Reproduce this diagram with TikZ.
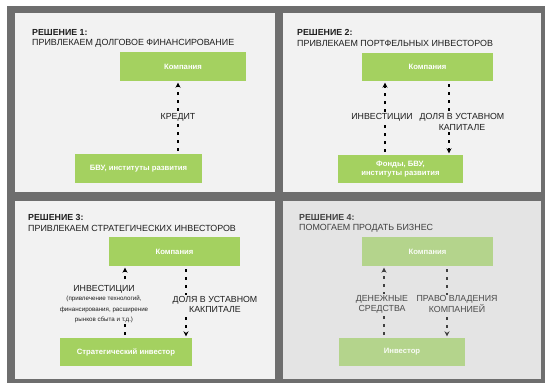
\documentclass[tikz,border=0pt]{standalone}
\usepackage{fontspec}
\setmainfont{Liberation Sans}
\usetikzlibrary{arrows.meta}
\definecolor{frame}{HTML}{6E6E6E}
\definecolor{panel}{HTML}{F2F2F2}
\definecolor{panelfour}{HTML}{E4E4E4}
\definecolor{boxgreen}{HTML}{A4D160}
\definecolor{boxpale}{HTML}{B4D48C}
\definecolor{ink}{HTML}{1E1E1E}
\begin{document}
\begin{tikzpicture}[x=1pt,y=-1pt,
  box/.style={fill=boxgreen,text=white,inner sep=0pt,align=center,
    font=\bfseries\fontsize{7.7}{9}\selectfont},
  palebox/.style={box,fill=boxpale,text=white!92!boxpale},
  head/.style={anchor=west,inner sep=0pt,text=ink,font=\bfseries\fontsize{8.8}{10}\selectfont},
  sub/.style={anchor=west,inner sep=0pt,text=ink,font=\fontsize{8.9}{10}\selectfont},
  lbl/.style={fill=panel,inner sep=1pt,align=center,text=ink,font=\fontsize{8.8}{10.2}\selectfont},
  flow/.style={line width=1.3pt,dash pattern=on 3pt off 5pt,
    -{Stealth[length=5pt,width=5pt]},shorten >=1.5pt,shorten <=3pt}]

\useasboundingbox (0,0) rectangle (545,383);
\fill[white] (0,0) rectangle (545,383);
\fill[frame] (7,6) rectangle (545,383);
\fill[panel] (15,13) rectangle (275,192);
\fill[panel] (283,13) rectangle (541,192);
\fill[panel] (15,201) rectangle (275,379);
\fill[panelfour] (283,201) rectangle (541,379);

% решение 1
\node[head] (h1) at (32,32) {РЕШЕНИЕ 1:};
\node[sub] (s1) at (32,43) {ПРИВЛЕКАЕМ ДОЛГОВОЕ ФИНАНСИРОВАНИЕ};
\node[box,minimum width=126pt,minimum height=29pt] (comp1) at (183,66.5) {Компания};
\node[box,minimum width=127pt,minimum height=29pt] (bvu1) at (138.5,168.5) {БВУ, институты развития};
\coordinate (a1) at (178,154);
\draw[flow] (a1) -- (a1 |- comp1.south);
\node[lbl] (cr1) at (178,117) {КРЕДИТ};

% решение 2
\node[head] (h2) at (297,32) {РЕШЕНИЕ 2:};
\node[sub] (s2) at (297,43) {ПРИВЛЕКАЕМ ПОРТФЕЛЬНЫХ ИНВЕСТОРОВ};
\node[box,minimum width=131pt,minimum height=28pt] (comp2) at (427.5,67) {Компания};
\node[box,minimum width=125pt,minimum height=28pt] (fond2) at (400.5,169) {Фонды, БВУ,\\институты развития};
\coordinate (a2) at (385,155);
\coordinate (b2) at (449,81);
\draw[flow] (a2) -- (a2 |- comp2.south);
\draw[flow] (b2) -- (b2 |- fond2.north);
\node[lbl] (inv2) at (382,117) {ИНВЕСТИЦИИ};
\node[lbl] (dol2) at (462,122) {ДОЛЯ В УСТАВНОМ\\КАПИТАЛЕ};

% решение 3
\node[head] (h3) at (28,217) {РЕШЕНИЕ 3:};
\node[sub] (s3) at (28,228) {ПРИВЛЕКАЕМ СТРАТЕГИЧЕСКИХ ИНВЕСТОРОВ};
\node[box,minimum width=131pt,minimum height=29pt] (comp3) at (174.5,251.5) {Компания};
\node[box,minimum width=132pt,minimum height=28pt] (str3) at (126,352) {Стратегический инвестор};
\coordinate (a3) at (125,338);
\coordinate (b3) at (186,266);
\draw[flow] (a3) -- (a3 |- comp3.south);
\draw[flow] (b3) -- (b3 |- str3.north);
\node[lbl] (inv3) at (104,304) {ИНВЕСТИЦИИ\\[-1pt]
  {\fontsize{6.2}{8.8}\selectfont (привлечение технологий,}\\
  {\fontsize{6.2}{8.8}\selectfont финансирования, расширение}\\
  {\fontsize{6.2}{8.8}\selectfont рынков сбыта и т.д.)}};
\node[lbl] (dol3) at (215,304.5) {ДОЛЯ В УСТАВНОМ\\КАКПИТАЛЕ};

% решение 4
\node[head,text=ink!85] (h4) at (299,217) {РЕШЕНИЕ 4:};
\node[sub,text=ink!85] (s4) at (299,228) {ПОМОГАЕМ ПРОДАТЬ БИЗНЕС};
\node[palebox,minimum width=131pt,minimum height=29pt] (comp4) at (427.5,251.5) {Компания};
\node[palebox,minimum width=126pt,minimum height=28pt] (inv4) at (402,352) {Инвестор};
\coordinate (a4) at (384,338);
\coordinate (b4) at (447,266);
\draw[flow,draw=ink!85] (a4) -- (a4 |- comp4.south);
\draw[flow,draw=ink!85] (b4) -- (b4 |- inv4.north);
\node[lbl,fill=panelfour,text=ink!80] (den4) at (382,304) {ДЕНЕЖНЫЕ\\СРЕДСТВА};
\node[lbl,fill=panelfour,text=ink!80] (pr4) at (457,304) {ПРАВО ВЛАДЕНИЯ\\КОМПАНИЕЙ};

\end{tikzpicture}
\end{document}
